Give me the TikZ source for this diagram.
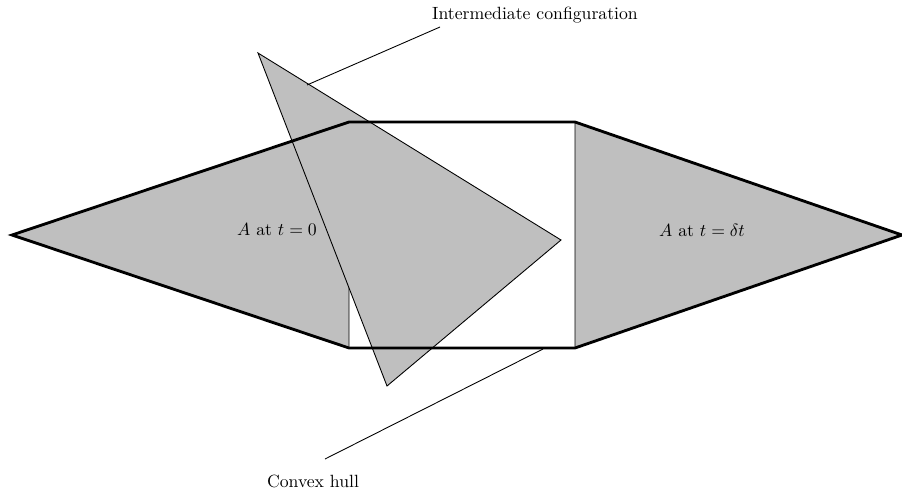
\documentclass[tikz,border=0pt]{standalone}
\usetikzlibrary{positioning}

\begin{document}
\begin{tikzpicture}[
    x=0.565pt, y=-0.565pt,
    font=\normalsize,
    body/.style={fill=gray!50, draw=black, line width=0.5pt, line join=miter},
    hull/.style={draw=black, line width=1.6pt, line join=miter},
    leader/.style={draw=black, line width=0.5pt}
]
\useasboundingbox (0,0) rectangle (902,490);

% corners of A at both times
\coordinate (l0) at (12,235);
\coordinate (lt) at (349,122);
\coordinate (lb) at (349,348);
\coordinate (rt) at (575,122);
\coordinate (rb) at (575,348);
\coordinate (r0) at (902,235);

% intermediate position
\coordinate (ia) at (258,53);
\coordinate (ib) at (561,240);
\coordinate (ic) at (387,386);

\draw[body] (l0) -- (lt) -- (lb) -- cycle;
\draw[body] (rt) -- (r0) -- (rb) -- cycle;
\draw[body] (ia) -- (ib) -- (ic) -- cycle;

\draw[hull] (l0) -- (lt) -- (rt) -- (r0) -- (rb) -- (lb) -- cycle;

\node (a0) at (277,230) {$A$ at $t=0$};
\node (adt) at (702,230) {$A$ at $t=\delta t$};

\node (inter) at (535,15) {Intermediate configuration};
\node (chull) at (313,481) {Convex hull};

\coordinate (interfoot) at (440,27);
\coordinate (intertip) at (307,85);
\coordinate (hullfoot) at (325,459);
\coordinate (hulltip) at (543,349);

\draw[leader] (interfoot) -- (intertip);
\draw[leader] (hullfoot) -- (hulltip);

\end{tikzpicture}
\end{document}
